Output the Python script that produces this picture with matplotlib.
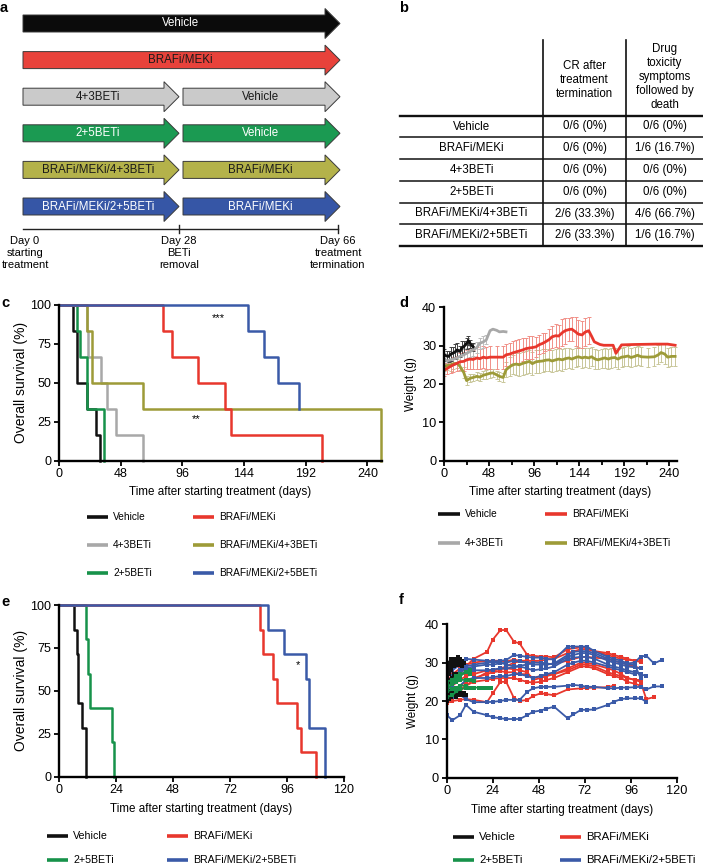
import numpy as np
import matplotlib
matplotlib.use("Agg")
import matplotlib.pyplot as plt
from matplotlib.patches import Polygon

plt.rcParams['font.family'] = ['Liberation Sans', 'DejaVu Sans']

W, H = 703, 866

# ---------------- data ----------------
# panel a: schedule
sched_names = ["Vehicle", "BRAFi/MEKi", "4+3BETi", "2+5BETi",
               "BRAFi/MEKi/4+3BETi", "BRAFi/MEKi/2+5BETi"]
sched_second = [None, None, "Vehicle", "Vehicle", "BRAFi/MEKi", "BRAFi/MEKi"]
sched_fill = ['#0b0b0b', '#e8423b', '#cacaca', '#1b9a52', '#b4b24a', '#3656a6']
sched_text = ['white', '#1a1a1a', '#1a1a1a', 'white', '#1a1a1a', 'white']
timeline_labels = ["Day 0\nstarting\ntreatment", "Day 28\nBETi\nremoval",
                   "Day 66\ntreatment\ntermination"]

# panel b: table
tab_rows = sched_names
tab_cr = ["0/6 (0%)", "0/6 (0%)", "0/6 (0%)", "0/6 (0%)", "2/6 (33.3%)", "2/6 (33.3%)"]
tab_tox = ["0/6 (0%)", "1/6 (16.7%)", "0/6 (0%)", "0/6 (0%)", "4/6 (66.7%)", "1/6 (16.7%)"]
tab_head = ["CR after\ntreatment\ntermination", "Drug\ntoxicity\nsymptoms\nfollowed by\ndeath"]

# colours of groups
c_black, c_red, c_gray = '#111111', '#e8372d', '#a8a8a8'
c_green, c_olive, c_blue = '#17924a', '#9d9b38', '#3a5aa8'

# panel c: Kaplan-Meier
c_veh_t = [0, 11.2, 14.3, 21.5, 28.5, 32.2]
c_veh_s = [100, 83.3, 50, 33.3, 16.7, 0]
c_brm_t = [0, 81.2, 88.2, 108, 129.2, 133.6, 204.4]
c_brm_s = [100, 83.3, 66.7, 50, 33.3, 16.7, 0]
c_43_t = [0, 21.5, 22.8, 32.4, 37.6, 44.4, 65.6]
c_43_s = [100, 83.3, 66.7, 50, 33.3, 16.7, 0]
c_b43_t = [0, 22.0, 25.4, 65.6, 250.5]
c_b43_s = [100, 83.3, 50, 33.3, 0]
c_25_t = [0, 13.8, 16.3, 21.5, 35.3]
c_25_s = [100, 83.3, 66.7, 33.3, 0]
c_b25_t = [0, 147.4, 159.6, 170.2, 186.8]
c_b25_s = [100, 83.3, 66.7, 50, 33.3]

# panel d: mean weights
d_veh_day = [0, 3, 5, 7, 10, 12, 14, 17, 19, 21, 24, 26, 28, 31]
d_veh_w = [27.6, 27.3, 27.2, 27.8, 28.1, 28.4, 28.9, 28.5, 29.4, 29.7, 30.6, 31.3, 30.5, 29.7]
d_veh_e = [1.5, 1.2, 1.5, 1.8, 1.5, 2.0, 1.8, 1.5, 1.8, 1.5, 1.5, 1.2, 1.0, 1.0]

d_43_day = [0, 3, 7, 10, 14, 17, 21, 24, 28, 31, 35, 38, 42, 45, 49, 52, 56, 59, 63, 66]
d_43_w = [26.7, 26.0, 26.3, 26.5, 26.8, 27.2, 27.6, 28.0, 28.5, 28.9, 29.5, 30.6, 31.0,
          31.5, 33.9, 34.3, 34.0, 33.6, 33.7, 33.6]
d_43_e = [1.5, 1.5, 1.5, 1.5, 1.5, 1.5, 1.5, 1.5, 1.5, 1.5, 1.5, 1.5, 1.5, 1.2,
          0, 0, 0, 0, 0, 0]

d_brm_day = [0, 3, 7, 10, 14, 17, 21, 24, 28, 31, 35, 38, 42, 45, 49, 56, 63, 66, 70, 73,
             77, 80, 84, 87, 91, 94, 98, 101, 105, 108, 112, 115, 119, 122, 126, 129, 133,
             136, 140, 143, 147, 150, 154, 157, 160, 166, 170, 180, 183, 189, 202, 226, 238, 246]
d_brm_w = [23.6, 24.0, 24.6, 25.0, 25.4, 25.8, 25.9, 26.3, 26.5, 26.4, 26.8, 26.6, 27.0,
           26.8, 27.0, 27.0, 27.0, 27.6, 27.8, 28.1, 28.4, 28.6, 28.9, 29.2, 29.4, 29.5,
           29.7, 30.2, 30.6, 31.0, 31.6, 32.3, 32.6, 32.5, 33.4, 33.9, 34.2, 34.3, 33.6,
           33.0, 32.8, 33.5, 33.9, 32.5, 31.0, 30.3, 30.1, 30.1, 28.0, 30.2, 30.3, 30.4,
           30.4, 30.1]
d_brm_e = [1.5, 1.5, 1.8, 2.0, 2.0, 2.2, 2.5, 2.5, 2.5, 2.5, 2.8, 2.6, 2.8, 2.8, 3.0, 3.0,
           3.0, 2.8, 3.0, 3.0, 3.0, 3.2, 3.0, 2.8, 3.0, 3.0, 2.6, 2.5, 2.6, 2.4, 2.8, 2.8,
           3.0, 3.0, 3.5, 3.4, 3.0, 3.2, 3.8, 3.6, 3.5, 3.6, 3.5, 0, 0, 0, 0, 0, 0, 0, 0,
           0, 0, 0]

d_b43_day = [0, 3, 7, 10, 14, 17, 21, 24, 28, 31, 35, 38, 42, 45, 49, 52, 56, 59, 63, 66,
             70, 73, 77, 80, 84, 87, 91, 94, 98, 101, 105, 108, 112, 115, 119, 122, 126,
             129, 133, 136, 140, 143, 147, 150, 154, 157, 161, 164, 168, 171, 175, 178,
             182, 185, 189, 192, 196, 199, 203, 206, 210, 217, 224, 228, 231, 235, 238,
             242, 246]
d_b43_w = [24.5, 24.8, 25.0, 25.3, 25.4, 24.6, 23.0, 20.9, 21.5, 21.7, 22.0, 21.8, 22.3,
           22.5, 22.8, 22.9, 22.4, 22.0, 21.7, 23.7, 24.5, 25.0, 25.2, 25.0, 25.4, 25.6,
           25.9, 25.3, 25.8, 25.9, 26.0, 26.2, 26.3, 26.0, 26.3, 26.5, 26.3, 26.6, 26.8,
           26.5, 26.9, 27.1, 26.8, 27.0, 26.8, 27.1, 26.5, 26.3, 26.6, 26.8, 26.5, 26.8,
           26.9, 26.5, 27.0, 27.1, 27.3, 26.9, 27.2, 27.5, 27.1, 27.0, 27.1, 27.6, 28.2,
           27.8, 27.0, 27.2, 27.2]
d_b43_e = [1.0, 1.2, 1.5, 1.5, 1.2, 1.2, 1.5, 1.2, 1.0, 1.0, 1.0, 1.0, 1.0, 1.2, 1.2, 1.0,
           1.0, 1.2, 1.2, 2.0, 2.5, 2.5, 2.8, 3.0, 3.0, 3.0, 3.0, 3.0, 3.0, 3.0, 3.0, 2.8,
           2.8, 2.8, 2.8, 2.8, 2.8, 2.8, 2.5, 2.5, 2.5, 2.5, 2.5, 2.5, 2.5, 2.5, 2.5, 2.5,
           2.5, 2.5, 2.5, 2.5, 2.5, 2.5, 2.5, 2.5, 2.5, 2.5, 2.5, 2.5, 2.5, 2.5, 2.5, 2.5,
           2.5, 2.5, 2.5, 2.5, 2.5]

# panel e: Kaplan-Meier
e_veh_t = [0, 6.3, 7.4, 8.1, 9.8, 11.2]
e_veh_s = [100, 85.7, 71.4, 42.9, 28.6, 0]
e_25_t = [0, 11.2, 12.35, 13.05, 22.2, 23.3]
e_25_s = [100, 80, 60, 40, 20, 0]
e_brm_t = [0, 84.6, 86.0, 90.2, 91.6, 100.1, 101.9, 108.1]
e_brm_s = [100, 85.7, 71.4, 57.1, 42.9, 28.6, 14.3, 0]
e_b25_t = [0, 88.1, 94.9, 103.9, 105.3, 112.0]
e_b25_s = [100, 85.7, 71.4, 57.1, 28.6, 0]

# panel f: individual mice
nan = np.nan
f_veh_day = [0, 1, 2, 3, 4, 5, 6, 7, 8, 9, 10, 11]
f_veh_w = [
    [28, 29, 30, 30.5, 31, 31, 30.5, 31, 30, nan, nan, nan],
    [29.5, 30, 31, 30, 29, 30.5, 31.5, 31, 30.5, 30, nan, nan],
    [26, 27, 28, 29, 29.5, 30, 29.5, 30, 29, nan, nan, nan],
    [20, 20.5, 21, 22, 22.5, 23, 22, 21.5, 21.5, 22, 21.5, nan],
    [22.5, 22, 22.5, 23, 22, 21, 22, 22.5, nan, nan, nan, nan],
    [24.5, 25, 25.5, 26, 27, 26.5, 27, nan, nan, nan, nan, nan],
]
f_25_day = [0, 3, 5, 7, 10, 12, 14, 17, 19, 21, 23]
f_25_w = [
    [23, 24.5, 25.5, 26.5, 27.5, 28, nan, nan, nan, nan, nan],
    [24, 24.5, 25, 25.5, 25.5, 25.5, 25.3, nan, nan, nan, nan],
    [22.5, 23, 23.5, 24, 24, 23.5, 23.5, 23.5, 23.5, 23.5, 23.5],
    [25, 25.5, 26.5, 27, 27.5, 27, nan, nan, nan, nan, nan],
    [21, 21.5, 22.5, 23, 23.5, nan, nan, nan, nan, nan, nan],
]
f_brm_day = [0, 3, 7, 10, 14, 21, 24, 28, 31, 35, 38, 42, 45, 49, 52, 56, 63, 70, 73, 77,
             84, 87, 91, 94, 98, 101, 104, 108]
f_brm_w = [
    [24, 25.5, 27, 29, 31, 32.8, 36, 38.5, 38.5, 35.5, 35, 32, 31.8, 31.6, 31.6, 31.4, 33.5,
     34, 33.8, 33, 32, 31.5, 31, 30.8, 30.5, 30.3, nan, nan],
    [19.5, 20, 20.3, 20.5, 20.3, 19.7, 22, 25, 25, 20.8, 20, 20.3, 21.3, 22, 21.8, 21.5, 23,
     23.3, 23.4, 23.5, 23.6, 24, nan, nan, nan, nan, nan, nan],
    [22, 23, 24, 25, 26, 27, 27.5, 27.8, 27.5, 27.5, 27, 27, 26, 26.5, 26.8, 27, 28, 29.5,
     29.5, 29, 27.5, 27, 26.5, 26, 25.5, 25, 20.5, 21],
    [20, 21, 22.5, 24, 25.5, 27.5, 28, 28.5, 29, 30, 30.3, 30, 30.2, 30, 29.5, 29.8, 30.5,
     31.5, 31.5, 31.3, 31, 30.5, 30, 29.5, 29, 28.5, nan, nan],
    [25, 27, 28.5, 29.5, 30, 30.5, 30.5, 30.5, 30.3, 30.8, 30.5, 30.5, 30.5, 30.5, 30.8, 31,
     32.5, 33.5, 33.5, 33, 32.5, 32, 31.5, 31, 30.5, 30.2, nan, nan],
    [23, 24, 25.5, 26.5, 27, 28, 28, 28.3, 28.5, 28.3, 28, 27.5, 25.5, 26, 26.5, 27, 28.5,
     30, 30, 29.5, 28.5, 28, 27, 26, 25.5, 25.5, nan, nan],
    [21, 22, 23, 24, 25, 25.5, 25.8, 26, 26, 26, 25.5, 25, 24.8, 25, 25.5, 26, 27.5, 29, 29,
     28.5, 27, 26.5, 26, 25, 24.5, 24, nan, nan],
]
f_b25_day = [0, 3, 7, 10, 14, 21, 24, 28, 31, 35, 38, 42, 45, 49, 52, 56, 63, 66, 70, 73,
             77, 84, 87, 91, 94, 98, 101, 104, 108, 112]
f_b25_w = [
    [16.3, 15, 16.3, 19, 17.2, 16.3, 15.8, 15.5, 15.3, 15.3, 15.3, 16.3, 17.2, 17.5, 18,
     18.5, 15.5, 16.5, 17.7, 17.7, 17.8, 19, 19.8, 20.5, 20.7, 20.7, 20.7, 19.8, nan, nan],
    [20.3, 21, 21.6, 20.5, 19.7, 19.7, 19.8, 20, 20.3, 20.3, 20.3, 22.4, 23.3, 23.7, 23.7,
     23.7, 24, 24.2, 24, 23.7, 23.7, 23.3, 23.3, 23.5, 23.5, 23.6, 23.7, 23, 23.8, 23.8],
    [26.3, 28, 29.5, 31, 30.8, 30.5, 30.3, 30.5, 30.7, 32, 31.8, 31.5, 31.3, 31.3, 31, 30.8,
     34.2, 34.2, 34.2, 34.2, 33, 31.5, 31, 30.5, 29.8, 30, 31.6, 31.8, 29.8, 30.7],
    [24, 26, 28, 29, 29.5, 30, 30.2, 30, 29.5, 29, 29.2, 29.5, 30, 30, 29.8, 29.5, 31.5,
     32, 32.5, 32.5, 32, 30.5, 30, 29.5, 29, 28.8, 28.5, nan, nan, nan],
    [25, 26.5, 27.5, 28.5, 29, 29.5, 29.5, 29.8, 30, 30.5, 30.3, 30, 29.5, 29.5, 29.5, 29.8,
     32, 32.8, 33, 33, 32.5, 31, 30.5, 30, 29.5, 29.5, 26, nan, nan, nan],
    [22, 24, 26.5, 28, 28, 28, 28.2, 28.5, 28.5, 28.8, 29, 28.5, 28, 28.3, 28.5, 29, 31,
     31.3, 31.5, 31.5, 31, 29.5, 29, 28.5, 28, 27.5, 27, 26.5, nan, nan],
    [21, 22.5, 24, 25.5, 26, 26, 26.2, 26.5, 26.5, 27, 27, 26.5, 26, 26.5, 27, 27.5, 29.5,
     30, 30.5, 30.5, 30, 29, 28.5, 28, 27.5, 27, nan, nan, nan, nan],
]


# ---------------- helpers ----------------
def box(x0, y0, x1, y1):
    # pixel box (top-left origin) -> figure fraction
    return [x0 / W, 1 - y1 / H, (x1 - x0) / W, (y1 - y0) / H]


def style_axes(ax, fs):
    for s in ['top', 'right']:
        ax.spines[s].set_visible(False)
    for s in ['left', 'bottom']:
        ax.spines[s].set_linewidth(1.7)
    ax.tick_params(which='both', direction='out', width=1.3, length=3.5, labelsize=fs, pad=2)
    ax.tick_params(which='minor', length=3)


fig = plt.figure(figsize=(W / 100, H / 100), dpi=100)

# overlay in pixel coordinates for schematic, table, legends, panel letters
ov = fig.add_axes([0, 0, 1, 1])
ov.set_xlim(0, W)
ov.set_ylim(H, 0)
ov.axis('off')
ov.set_autoscale_on(False)

for lab, (x, y) in zip("abcdef", [(0, 8), (399, 8), (1, 303), (399, 303), (1, 602), (399, 600)]):
    ov.text(x, y, lab, fontsize=10.5, fontweight='bold', va='center', ha='left')


# ---------------- panel a ----------------
def arrow(x0, xt, yc, color):
    hb, hh, hl = 8.5, 15, 15
    pts = [(x0, yc - hb), (xt - hl, yc - hb), (xt - hl, yc - hh), (xt, yc),
           (xt - hl, yc + hh), (xt - hl, yc + hb), (x0, yc + hb)]
    ov.add_patch(Polygon(pts, closed=True, facecolor=color, edgecolor='#3a3a3a', lw=0.7))


xa0, xmid, xend = 23, 179, 340
for i, name in enumerate(sched_names):
    yc = 23.5 + i * 36.6
    if sched_second[i] is None:
        arrow(xa0, xend, yc, sched_fill[i])
        ov.text((xa0 + xend) / 2 - 1, yc, name, color=sched_text[i], fontsize=8.3,
                ha='center', va='center')
    else:
        arrow(xa0, xmid, yc, sched_fill[i])
        arrow(xmid + 4, xend, yc, sched_fill[i])
        ov.text((xa0 + xmid) / 2 - 3, yc, name, color=sched_text[i], fontsize=8.3,
                ha='center', va='center')
        ov.text((xmid + 4 + xend) / 2 - 1, yc, sched_second[i], color=sched_text[i],
                fontsize=8.3, ha='center', va='center')

ov.plot([xa0, 338], [228.5, 228.5], color='#222222', lw=1.0)
for xt in [179, 338]:
    ov.plot([xt, xt], [224.5, 232.5], color='#222222', lw=1.0)
for xt, lab in zip([25, 179, 338], timeline_labels):
    ov.text(xt, 236, lab, fontsize=8, ha='center', va='top', linespacing=1.25)

# ---------------- panel b ----------------
tx0, tx1, tx2, tx3 = 400, 543, 626, 703
hl_y = [116, 137, 159, 181, 203, 224, 246]
for xv in [tx1, tx2]:
    ov.plot([xv, xv], [40, 246], color='#111111', lw=1.2)
for j, yv in enumerate(hl_y):
    ov.plot([tx0, tx3], [yv, yv], color='#111111', lw=1.7 if j in (0, 6) else 1.1)
ov.text((tx1 + tx2) / 2, 80, tab_head[0], fontsize=8.3, ha='center', va='center',
        linespacing=1.2)
ov.text((tx2 + tx3) / 2, 77, tab_head[1], fontsize=8.3, ha='center', va='center',
        linespacing=1.2)
for j in range(len(tab_rows)):
    yc = (hl_y[j] + hl_y[j + 1]) / 2
    ov.text((tx0 + tx1) / 2, yc, tab_rows[j], fontsize=8.3, ha='center', va='center')
    ov.text((tx1 + tx2) / 2, yc, tab_cr[j], fontsize=8.3, ha='center', va='center')
    ov.text((tx2 + tx3) / 2, yc, tab_tox[j], fontsize=8.3, ha='center', va='center')


def legend(entries, cols_x, rows_y, fs, llen=21):
    for k, (lab, col) in enumerate(entries):
        c, r = k // len(rows_y), k % len(rows_y)
        x0, y = cols_x[c], rows_y[r]
        ov.plot([x0, x0 + llen], [y, y], color=col, lw=2.6, solid_capstyle='butt')
        ov.text(x0 + llen + 5, y, lab, fontsize=fs, va='center', ha='left')


# ---------------- panel c ----------------
axc = fig.add_axes(box(59, 304.7, 382.1, 460.7))
for t, s, col in [(c_veh_t, c_veh_s, c_black), (c_43_t, c_43_s, c_gray),
                  (c_25_t, c_25_s, c_green), (c_b43_t, c_b43_s, c_olive),
                  (c_brm_t, c_brm_s, c_red), (c_b25_t, c_b25_s, c_blue)]:
    axc.step(t, s, where='post', color=col, lw=1.8, clip_on=False)
axc.set_xlim(0, 251.5)
axc.set_ylim(0, 100)
axc.set_xticks(np.arange(0, 241, 48))
axc.set_yticks([0, 25, 50, 75, 100])
style_axes(axc, 9)
axc.set_xlabel('Time after starting treatment (days)', fontsize=8.4, labelpad=4)
axc.set_ylabel('Overall survival (%)', fontsize=10, labelpad=2)
axc.text(124, 91.5, '***', fontsize=8, ha='center', va='center')
axc.text(107, 26.5, '**', fontsize=8, ha='center', va='center')
legend([("Vehicle", c_black), ("4+3BETi", c_gray), ("2+5BETi", c_green),
        ("BRAFi/MEKi", c_red), ("BRAFi/MEKi/4+3BETi", c_olive),
        ("BRAFi/MEKi/2+5BETi", c_blue)], [87, 193], [517, 545, 573], 7.3)

# ---------------- panel d ----------------
axd = fig.add_axes(box(444, 307.3, 677, 460.7))
for dd, ww, ee, col, ecol in [
        (d_b43_day, d_b43_w, d_b43_e, c_olive, '#c9c79a'),
        (d_brm_day, d_brm_w, d_brm_e, c_red, '#f19088'),
        (d_43_day, d_43_w, d_43_e, c_gray, '#bdbdbd'),
        (d_veh_day, d_veh_w, d_veh_e, c_black, '#444444')]:
    ee = np.array(ee, dtype=float)
    axd.errorbar(dd, ww, yerr=np.where(ee > 0, ee, np.nan), color=col, lw=2.0,
                 ecolor=ecol, elinewidth=0.7, capsize=1.5, capthick=0.7)
axd.set_xlim(0, 248)
axd.set_ylim(0, 40)
axd.set_xticks(np.arange(0, 241, 48))
axd.set_xticks(np.arange(24, 241, 48), minor=True)
axd.set_yticks([0, 10, 20, 30, 40])
style_axes(axd, 9.2)
axd.set_xlabel('Time after starting treatment (days)', fontsize=8.4, labelpad=4)
axd.set_ylabel('Weight (g)', fontsize=8.4, labelpad=4)
legend([("Vehicle", c_black), ("4+3BETi", c_gray),
        ("BRAFi/MEKi", c_red), ("BRAFi/MEKi/4+3BETi", c_olive)],
       [438, 545], [514, 543], 7.3, llen=22)

# ---------------- panel e ----------------
axe = fig.add_axes(box(59, 605, 344, 776.7))
for t, s, col in [(e_veh_t, e_veh_s, c_black), (e_25_t, e_25_s, c_green),
                  (e_brm_t, e_brm_s, c_red), (e_b25_t, e_b25_s, c_blue)]:
    axe.step(t, s, where='post', color=col, lw=1.8, clip_on=False)
axe.set_xlim(0, 120)
axe.set_ylim(0, 100)
axe.set_xticks(np.arange(0, 121, 24))
axe.set_yticks([0, 25, 50, 75, 100])
style_axes(axe, 9)
axe.set_xlabel('Time after starting treatment (days)', fontsize=8.4, labelpad=5)
axe.set_ylabel('Overall survival (%)', fontsize=10, labelpad=2)
axe.text(100.5, 65, '*', fontsize=8, ha='center', va='center')
legend([("Vehicle", c_black), ("2+5BETi", c_green),
        ("BRAFi/MEKi", c_red), ("BRAFi/MEKi/2+5BETi", c_blue)],
       [47, 167], [836, 860], 7.7)

# ---------------- panel f ----------------
axf = fig.add_axes(box(446.7, 624.3, 677, 777.7))
for dd, group, col in [(f_brm_day, f_brm_w, c_red), (f_b25_day, f_b25_w, c_blue),
                       (f_veh_day, f_veh_w, c_black), (f_25_day, f_25_w, c_green)]:
    for ww in group:
        axf.plot(dd, ww, color=col, lw=1.3, marker='s', ms=2.4, mew=0)
axf.set_xlim(0, 120)
axf.set_ylim(0, 40)
axf.set_xticks(np.arange(0, 121, 24))
axf.set_yticks([0, 10, 20, 30, 40])
style_axes(axf, 9.2)
axf.set_xlabel('Time after starting treatment (days)', fontsize=8.4, labelpad=5)
axf.set_ylabel('Weight (g)', fontsize=8.4, labelpad=4)
legend([("Vehicle", c_black), ("2+5BETi", c_green),
        ("BRAFi/MEKi", c_red), ("BRAFi/MEKi/2+5BETi", c_blue)],
       [453, 560], [837, 860], 8.2)

fig.savefig('out.png', dpi=100)
